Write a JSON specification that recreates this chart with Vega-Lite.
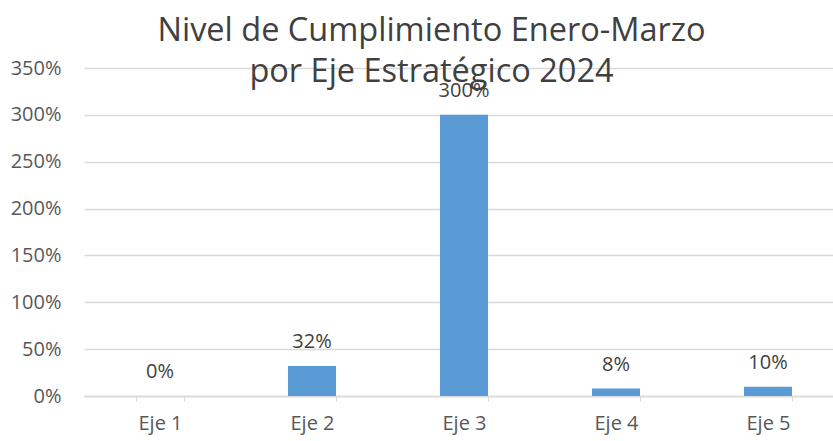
{
  "$schema": "https://vega.github.io/schema/vega-lite/v6.json",
  "width": 749,
  "height": 328,
  "autosize": {"type": "none"},
  "padding": {"left": 84, "top": 68, "right": 0, "bottom": 45},
  "background": "white",
  "config": {"view": {"stroke": null}, "font": "Open Sans"},
  "title": {
    "text": ["Nivel de Cumplimiento Enero-Marzo", "por Eje Estratégico 2024"],
    "anchor": "middle",
    "frame": "group",
    "fontSize": 32.5,
    "fontWeight": "normal",
    "font": "Open Sans",
    "color": "#404040",
    "lineHeight": 41,
    "dx": -27,
    "offset": 0,
    "dy": 30
  },
  "data": {
    "values": [
      {"eje": "Eje 1", "valor": 0},
      {"eje": "Eje 2", "valor": 0.32},
      {"eje": "Eje 3", "valor": 3.0},
      {"eje": "Eje 4", "valor": 0.08},
      {"eje": "Eje 5", "valor": 0.1}
    ]
  },
  "encoding": {
    "x": {
      "field": "eje",
      "type": "nominal",
      "sort": null,
      "scale": {"range": [0, 760], "paddingInner": 0.684, "paddingOuter": 0.342},
      "axis": {
        "title": null,
        "labelAngle": 0,
        "labelFontSize": 20,
        "labelColor": "#595959",
        "domainColor": "#D9D9D9",
        "domainWidth": 1.5,
        "tickColor": "#D9D9D9",
        "tickSize": 5,
        "tickBand": "extent",
        "labelPadding": 12,
        "grid": false
      }
    },
    "y": {
      "field": "valor",
      "type": "quantitative",
      "scale": {"domain": [0, 3.5], "nice": false},
      "axis": {
        "title": null,
        "values": [0, 0.5, 1, 1.5, 2, 2.5, 3, 3.5],
        "format": ".0%",
        "labelFontSize": 20,
        "labelColor": "#595959",
        "domain": false,
        "ticks": false,
        "labelPadding": 23,
        "gridColor": "#D9D9D9",
        "gridWidth": 1.5
      }
    }
  },
  "layer": [
    {"mark": {"type": "bar", "color": "#5B9BD5"}},
    {
      "mark": {"type": "text", "baseline": "bottom", "dy": -14, "fontSize": 20, "color": "#404040"},
      "encoding": {"text": {"field": "valor", "type": "quantitative", "format": ".0%"}}
    }
  ]
}
